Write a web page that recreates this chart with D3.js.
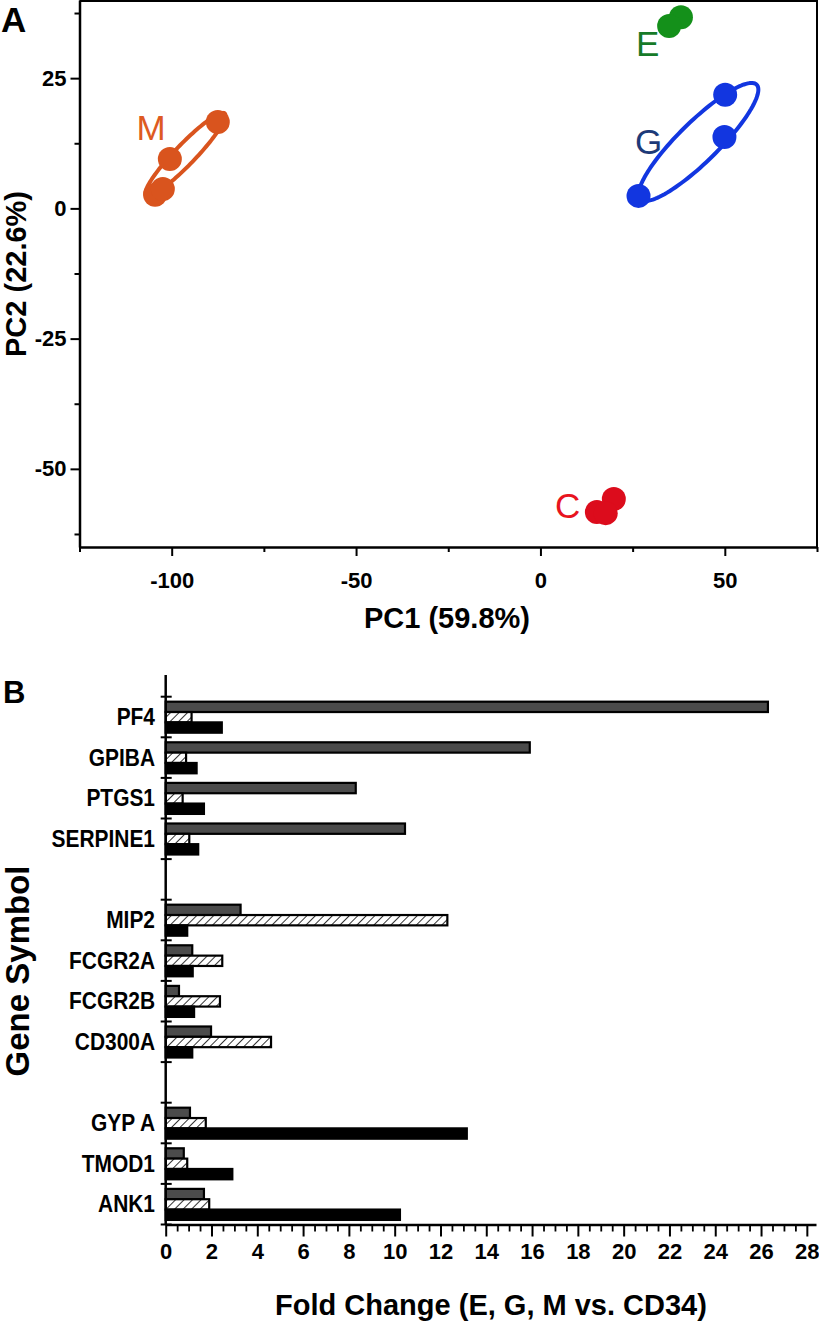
<!DOCTYPE html>
<html><head><meta charset="utf-8">
<script src="https://cdn.jsdelivr.net/npm/d3@7"></script>
<style>
body{margin:0;background:#fff}
svg{display:block}
text{font-family:"Liberation Sans",Arial,Helvetica,sans-serif}
</style>
</head><body>
<svg id="c" width="819" height="1323"></svg>
<script>
// ---------- Panel A: PCA scores ----------
const pc1M = [-100.5, -87.5, -104.5, -102.4];
const pc2M = [9.5, 16.6, 2.6, 3.7];
const pc1E = [38.1, 34.9];
const pc2E = [36.7, 35.0];
const pc1G = [50.1, 49.9, 26.6];
const pc2G = [21.8, 13.7, 2.4];
const pc1C = [19.9, 15.3, 17.7];
const pc2C = [-55.8, -58.3, -58.5];
// group ellipses: [centerPC1, centerPC2, majorPC1, majorPC2, minorPC1, minorPC2]
const ellipseM = [-96.3, 10.35, 10.7, 7.87, 1.98, -1.36];
const ellipseG = [42.85, 12.74, 15.8, 11.0, 3.79, -2.74];
const pcaGroupNames = ["M", "E", "G", "C"];
const pc1TickLabels = [-100, -50, 0, 50];
const pc1MinorTicks = [-125, -75, -25, 25, 75];
const pc2TickLabels = [-50, -25, 0, 25];
const pc2MinorTicks = [-62.5, -37.5, -12.5, 12.5, 37.5];

// ---------- Panel B: fold change ----------
const geneGroups = [["PF4","GPIBA","PTGS1","SERPINE1"],["MIP2","FCGR2A","FCGR2B","CD300A"],["GYP A","TMOD1","ANK1"]];
const genes = ["PF4","GPIBA","PTGS1","SERPINE1","MIP2","FCGR2A","FCGR2B","CD300A","GYP A","TMOD1","ANK1"];
const seriesNames = ["E","G","M"];
const foldE = [26.3, 15.9, 8.3, 10.45, 3.27, 1.16, 0.58, 1.98, 1.06, 0.79, 1.67];
const foldG = [1.13, 0.89, 0.74, 1.03, 12.3, 2.47, 2.37, 4.6, 1.75, 0.94, 1.9];
const foldM = [2.45, 1.35, 1.67, 1.42, 0.94, 1.18, 1.24, 1.16, 13.15, 2.91, 10.23];
const foldTickLabels = d3.range(0, 29, 2);
const foldMinorTicks = d3.range(0, 28.01, 0.5);

const svg = d3.select("#c");
const fmt = d => String(d);

// ===== Panel A =====
const xA = d3.scaleLinear().domain([-125, 75]).range([79.5, 817]);
const yA = d3.scaleLinear().domain([-65, 40]).range([547, 0]);

const gA = svg.append("g");
gA.append("path").attr("d", `M${xA(-125)},1H${xA(75)}V${yA(-65)}`)
  .attr("fill","none").attr("stroke","#000").attr("stroke-width",2);

function styleAxis(g){
  g.select(".domain").attr("stroke","#000").attr("stroke-width",2.5);
  g.selectAll(".tick line").attr("stroke","#000").attr("stroke-width",2);
  g.selectAll(".tick text").attr("fill","#000").attr("font-weight","bold")
    .attr("font-family","'Liberation Sans',Arial,sans-serif");
}

const axXA = gA.append("g").attr("transform",`translate(0,${yA(-65)})`)
  .call(d3.axisBottom(xA).tickValues(pc1TickLabels).tickSize(9).tickSizeOuter(0).tickPadding(16).tickFormat(fmt))
  .attr("font-size",22);
styleAxis(axXA);
gA.append("g").attr("transform",`translate(0,${yA(-65)})`)
  .call(d3.axisBottom(xA).tickValues(pc1MinorTicks).tickSize(5).tickFormat(""))
  .call(g=>{g.select(".domain").remove(); g.selectAll("line").attr("stroke","#000").attr("stroke-width",2);});

const axYA = gA.append("g").attr("transform",`translate(${xA(-125)},0)`)
  .call(d3.axisLeft(yA).tickValues(pc2TickLabels).tickSize(9).tickSizeOuter(0).tickPadding(4).tickFormat(fmt))
  .attr("font-size",22);
styleAxis(axYA);
gA.append("g").attr("transform",`translate(${xA(-125)},0)`)
  .call(d3.axisLeft(yA).tickValues(pc2MinorTicks).tickSize(5).tickFormat(""))
  .call(g=>{g.select(".domain").remove(); g.selectAll("line").attr("stroke","#000").attr("stroke-width",2);});

svg.append("text").attr("x",447).attr("y",628).attr("text-anchor","middle")
  .attr("font-size",29).attr("font-weight","bold").text("PC1 (59.8%)");
svg.append("text").attr("transform","translate(26,274) rotate(-90)").attr("text-anchor","middle")
  .attr("font-size",29).attr("font-weight","bold").text("PC2 (22.6%)");
svg.append("text").attr("x",1).attr("y",32).attr("font-size",35).attr("font-weight","bold").text("A");

const pcaColor = {M:"#d9541e", E:"#14901a", G:"#1236e0", C:"#dc0c1c"};
const pcaLabelColor = {M:"#de5a22", E:"#167a28", G:"#1d3a78", C:"#e8141e"};
const pcaPoints = {M:[pc1M,pc2M], E:[pc1E,pc2E], G:[pc1G,pc2G], C:[pc1C,pc2C]};
const ellipses = {M:ellipseM, G:ellipseG};

const line = d3.line().curve(d3.curveLinearClosed);
Object.entries(ellipses).forEach(([k,e])=>{
  const pts = d3.range(0, 2*Math.PI, Math.PI/60).map(t=>[
    xA(e[0] + Math.cos(t)*e[2] + Math.sin(t)*e[4]),
    yA(e[1] + Math.cos(t)*e[3] + Math.sin(t)*e[5])]);
  gA.append("path").attr("d", line(pts)).attr("fill","none")
    .attr("stroke", pcaColor[k]).attr("stroke-width",4).attr("stroke-linejoin","round");
});
pcaGroupNames.forEach(k=>{
  const [px,py] = pcaPoints[k];
  gA.selectAll(null).data(px.map((v,i)=>[v,py[i]])).enter().append("circle")
    .attr("cx",d=>xA(d[0])).attr("cy",d=>yA(d[1])).attr("r",12).attr("fill",pcaColor[k]);
});
const labelPos = {M:[136.5,140], E:[636,56], G:[635,154], C:[555,518]};
pcaGroupNames.forEach(k=>{
  svg.append("text").attr("x",labelPos[k][0]).attr("y",labelPos[k][1])
    .attr("font-family","Lato, 'Open Sans', sans-serif").attr("font-size",35)
    .attr("fill",pcaLabelColor[k]).text(k);
});

// ===== Panel B =====
const slots = [];
geneGroups.forEach((grp,i)=>{ grp.forEach(g=>slots.push(g)); if(i<geneGroups.length-1) slots.push("gap"+i); });
const xB = d3.scaleLinear().domain([0, 28.4]).range([165.7, 816]);
const yB = d3.scaleBand().domain(slots).range([696.7, 1224.5]).padding(0);
const bw = yB.bandwidth();
const inner = d3.scaleBand().domain(seriesNames).range([bw*0.123, bw*0.887]).padding(0);

const defs = svg.append("defs");
const pat = defs.append("pattern").attr("id","hatch").attr("patternUnits","userSpaceOnUse")
  .attr("width",6).attr("height",6).attr("patternTransform","rotate(45)");
pat.append("rect").attr("width",6).attr("height",6).attr("fill","#fff");
pat.append("line").attr("x1",0).attr("y1",0).attr("x2",0).attr("y2",6).attr("stroke","#000").attr("stroke-width",1.6);

const gB = svg.append("g");
const seriesVals = {E:foldE, G:foldG, M:foldM};
const seriesFill = {E:"#4b4b4b", G:"url(#hatch)", M:"#000"};
seriesNames.forEach(s=>{
  gB.selectAll(null).data(genes.map((g,i)=>({g, v:seriesVals[s][i]}))).enter().append("rect")
    .attr("x", xB(0)).attr("width", d=>xB(d.v)-xB(0))
    .attr("y", d=>yB(d.g)+inner(s)).attr("height", inner.bandwidth())
    .attr("fill", seriesFill[s]).attr("stroke","#000").attr("stroke-width",2.2);
});

const axXB = gB.append("g").attr("transform",`translate(0,1224.5)`)
  .call(d3.axisBottom(xB).tickValues(foldTickLabels).tickSize(12).tickSizeOuter(0).tickPadding(6.5).tickFormat(fmt))
  .attr("font-size",22);
styleAxis(axXB);
gB.append("g").attr("transform",`translate(0,1224.5)`)
  .call(d3.axisBottom(xB).tickValues(foldMinorTicks.filter(v=>v%2!==0)).tickSize(7).tickFormat(""))
  .call(g=>{g.select(".domain").remove(); g.selectAll("line").attr("stroke","#000").attr("stroke-width",1.8);});

gB.append("line").attr("x1",xB(0)).attr("x2",xB(0)).attr("y1",675).attr("y2",1224.5)
  .attr("stroke","#000").attr("stroke-width",2.5);
const boundaries = slots.map(s=>yB(s)).concat([yB.range()[1]]);
gB.selectAll(null).data(boundaries).enter().append("line")
  .attr("x1",xB(0)-5).attr("x2",xB(0)+6).attr("y1",d=>d).attr("y2",d=>d)
  .attr("stroke","#000").attr("stroke-width",2);
gB.selectAll(null).data(genes).enter().append("text")
  .attr("transform",d=>`translate(155,${yB(d)+bw/2}) scale(0.91,1)`)
  .attr("dy","0.36em").attr("text-anchor","end")
  .attr("font-size",23).attr("font-weight","bold").text(d=>d);

svg.append("text").attr("x",491).attr("y",1315).attr("text-anchor","middle")
  .attr("font-size",29).attr("font-weight","bold").text("Fold Change (E, G, M vs. CD34)");
svg.append("text").attr("transform","translate(29,971) rotate(-90)").attr("text-anchor","middle")
  .attr("font-size",33).attr("font-weight","bold").text("Gene Symbol");
svg.append("text").attr("x",3).attr("y",703).attr("font-size",31).attr("font-weight","bold").text("B");
</script>
</body></html>
